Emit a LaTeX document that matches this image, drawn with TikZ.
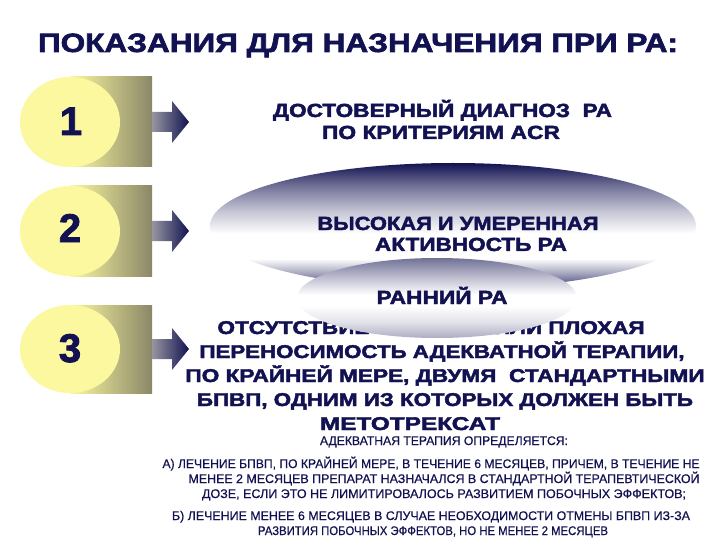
\documentclass[tikz,border=0pt]{standalone}
\usepackage{fontspec}
\setmainfont{Liberation Sans}
\newfontfamily\heavy{Liberation Sans}[BoldFeatures={FakeBold=2.2}]
\newfontfamily\medium{Liberation Sans}[FakeBold=0.6]
\usepackage{graphicx}
\definecolor{navy}{RGB}{18,18,82}
\definecolor{yel}{RGB}{251,248,160}
\definecolor{olive}{RGB}{138,135,104}
\definecolor{arrgray}{RGB}{150,150,160}
\pgfdeclareverticalshading{bigell}{100bp}{color(0bp)=(navy); color(25bp)=(navy!85); color(31bp)=(navy!40); color(37bp)=(white); color(47bp)=(white); color(56bp)=(navy!25); color(66bp)=(navy!60); color(75bp)=(navy); color(100bp)=(navy)}
\pgfdeclareverticalshading{smallell}{100bp}{color(0bp)=(navy!40); color(25bp)=(navy!35); color(35bp)=(navy!12); color(45bp)=(white); color(52bp)=(white); color(62bp)=(navy!25); color(75bp)=(navy!60); color(100bp)=(navy!60)}
\newcommand{\fitw}[2]{\resizebox{#1}{\height}{#2}}
\tikzset{
  numbg/.style={left color=yel, right color=olive, draw=none},
  numcirc/.style={fill=yel, draw=none},
  arrowshape/.style={left color=arrgray, right color=navy, draw=none},
  digit/.style={font=\fontsize{40}{40}\selectfont\heavy\bfseries, text=navy, inner sep=0, anchor=base},
  bigtxt/.style={font=\fontsize{19}{19}\selectfont\heavy\bfseries, text=navy, inner sep=0, anchor=base},
  midtxt/.style={font=\fontsize{18.5}{18.5}\selectfont\heavy\bfseries, text=navy, inner sep=0, anchor=base},
  smalltxt/.style={font=\fontsize{12.5}{12.5}\selectfont\medium, text=navy, inner sep=0, anchor=base},
  titletxt/.style={font=\fontsize{26.5}{26.5}\selectfont\heavy\bfseries, text=navy, inner sep=0, anchor=base}
}
\begin{document}
\begin{tikzpicture}[x=1pt,y=-1pt]
\path[use as bounding box, fill=white] (0,0) rectangle (720,540);
% title
\node[titletxt] (title) at (358,52) {\fitw{640pt}{ПОКАЗАНИЯ ДЛЯ НАЗНАЧЕНИЯ ПРИ РА:}};
% number badges
\foreach \n/\cy/\ry in {1/122/45, 2/231/45, 3/349/44}{
  \shade[numbg] (70,\cy-\ry) rectangle (152,\cy+\ry);
  \fill[numcirc] (70,\cy) ellipse [x radius=50, y radius=\ry];
  \shade[arrowshape] (152,\cy-10) -- (172,\cy-10) -- (172,\cy-21) -- (189,\cy) -- (172,\cy+21) -- (172,\cy+10) -- (152,\cy+10) -- cycle;
}
\node[digit] (d1) at (71,135) {1};
\node[digit] (d2) at (70,242) {2};
\node[digit] (d3) at (70,362) {3};
% item 1
\node[bigtxt] (t1a) at (442.5,117) {\fitw{339pt}{ДОСТОВЕРНЫЙ ДИАГНОЗ~~РА}};
\node[bigtxt] (t1b) at (441,139) {\fitw{238pt}{ПО КРИТЕРИЯМ ACR}};
% item 2 big ellipse
\shade[shading=bigell] (453,226) ellipse [x radius=243, y radius=63];
\node[bigtxt] (t2a) at (458,230) {\fitw{281pt}{ВЫСОКАЯ И УМЕРЕННАЯ}};
\node[bigtxt] (t2b) at (471,251) {\fitw{192pt}{АКТИВНОСТЬ РА}};
% item 3 text
\node[midtxt] (t3a) at (431,334) {\fitw{427pt}{ОТСУТСТВИЕ ЭФФЕКТА ИЛИ ПЛОХАЯ}};
\node[midtxt] (t3b) at (442,358) {\fitw{485pt}{ПЕРЕНОСИМОСТЬ АДЕКВАТНОЙ ТЕРАПИИ,}};
\node[midtxt] (t3c) at (445,382) {\fitw{519pt}{ПО КРАЙНЕЙ МЕРЕ, ДВУМЯ~~СТАНДАРТНЫМИ}};
\node[midtxt] (t3d) at (445,406) {\fitw{496pt}{БПВП, ОДНИМ ИЗ КОТОРЫХ ДОЛЖЕН БЫТЬ}};
\node[midtxt] (t3e) at (410,430) {\fitw{180pt}{МЕТОТРЕКСАТ}};
% small ellipse
\shade[shading=smallell] (437,298) ellipse [x radius=140, y radius=40];
\node[bigtxt] (t2c) at (442,304) {\fitw{131pt}{РАННИЙ РА}};
% notes
\node[smalltxt] (s0) at (444,445) {\fitw{248pt}{АДЕКВАТНАЯ ТЕРАПИЯ ОПРЕДЕЛЯЕТСЯ:}};
\node[smalltxt] (sa1) at (431,468) {\fitw{537pt}{А) ЛЕЧЕНИЕ БПВП, ПО КРАЙНЕЙ МЕРЕ, В ТЕЧЕНИЕ 6 МЕСЯЦЕВ, ПРИЧЕМ, В ТЕЧЕНИЕ НЕ}};
\node[smalltxt] (sa2) at (444,483) {\fitw{511pt}{МЕНЕЕ 2 МЕСЯЦЕВ ПРЕПАРАТ НАЗНАЧАЛСЯ В СТАНДАРТНОЙ ТЕРАПЕВТИЧЕСКОЙ}};
\node[smalltxt] (sa3) at (444,498) {\fitw{484pt}{ДОЗЕ, ЕСЛИ ЭТО НЕ ЛИМИТИРОВАЛОСЬ РАЗВИТИЕМ ПОБОЧНЫХ ЭФФЕКТОВ;}};
\node[smalltxt] (sb1) at (431,520) {\fitw{518pt}{Б) ЛЕЧЕНИЕ МЕНЕЕ 6 МЕСЯЦЕВ В СЛУЧАЕ НЕОБХОДИМОСТИ ОТМЕНЫ БПВП ИЗ-ЗА}};
\node[smalltxt] (sb2) at (433,535) {\fitw{350pt}{РАЗВИТИЯ ПОБОЧНЫХ ЭФФЕКТОВ, НО НЕ МЕНЕЕ 2 МЕСЯЦЕВ}};
\end{tikzpicture}
\end{document}
